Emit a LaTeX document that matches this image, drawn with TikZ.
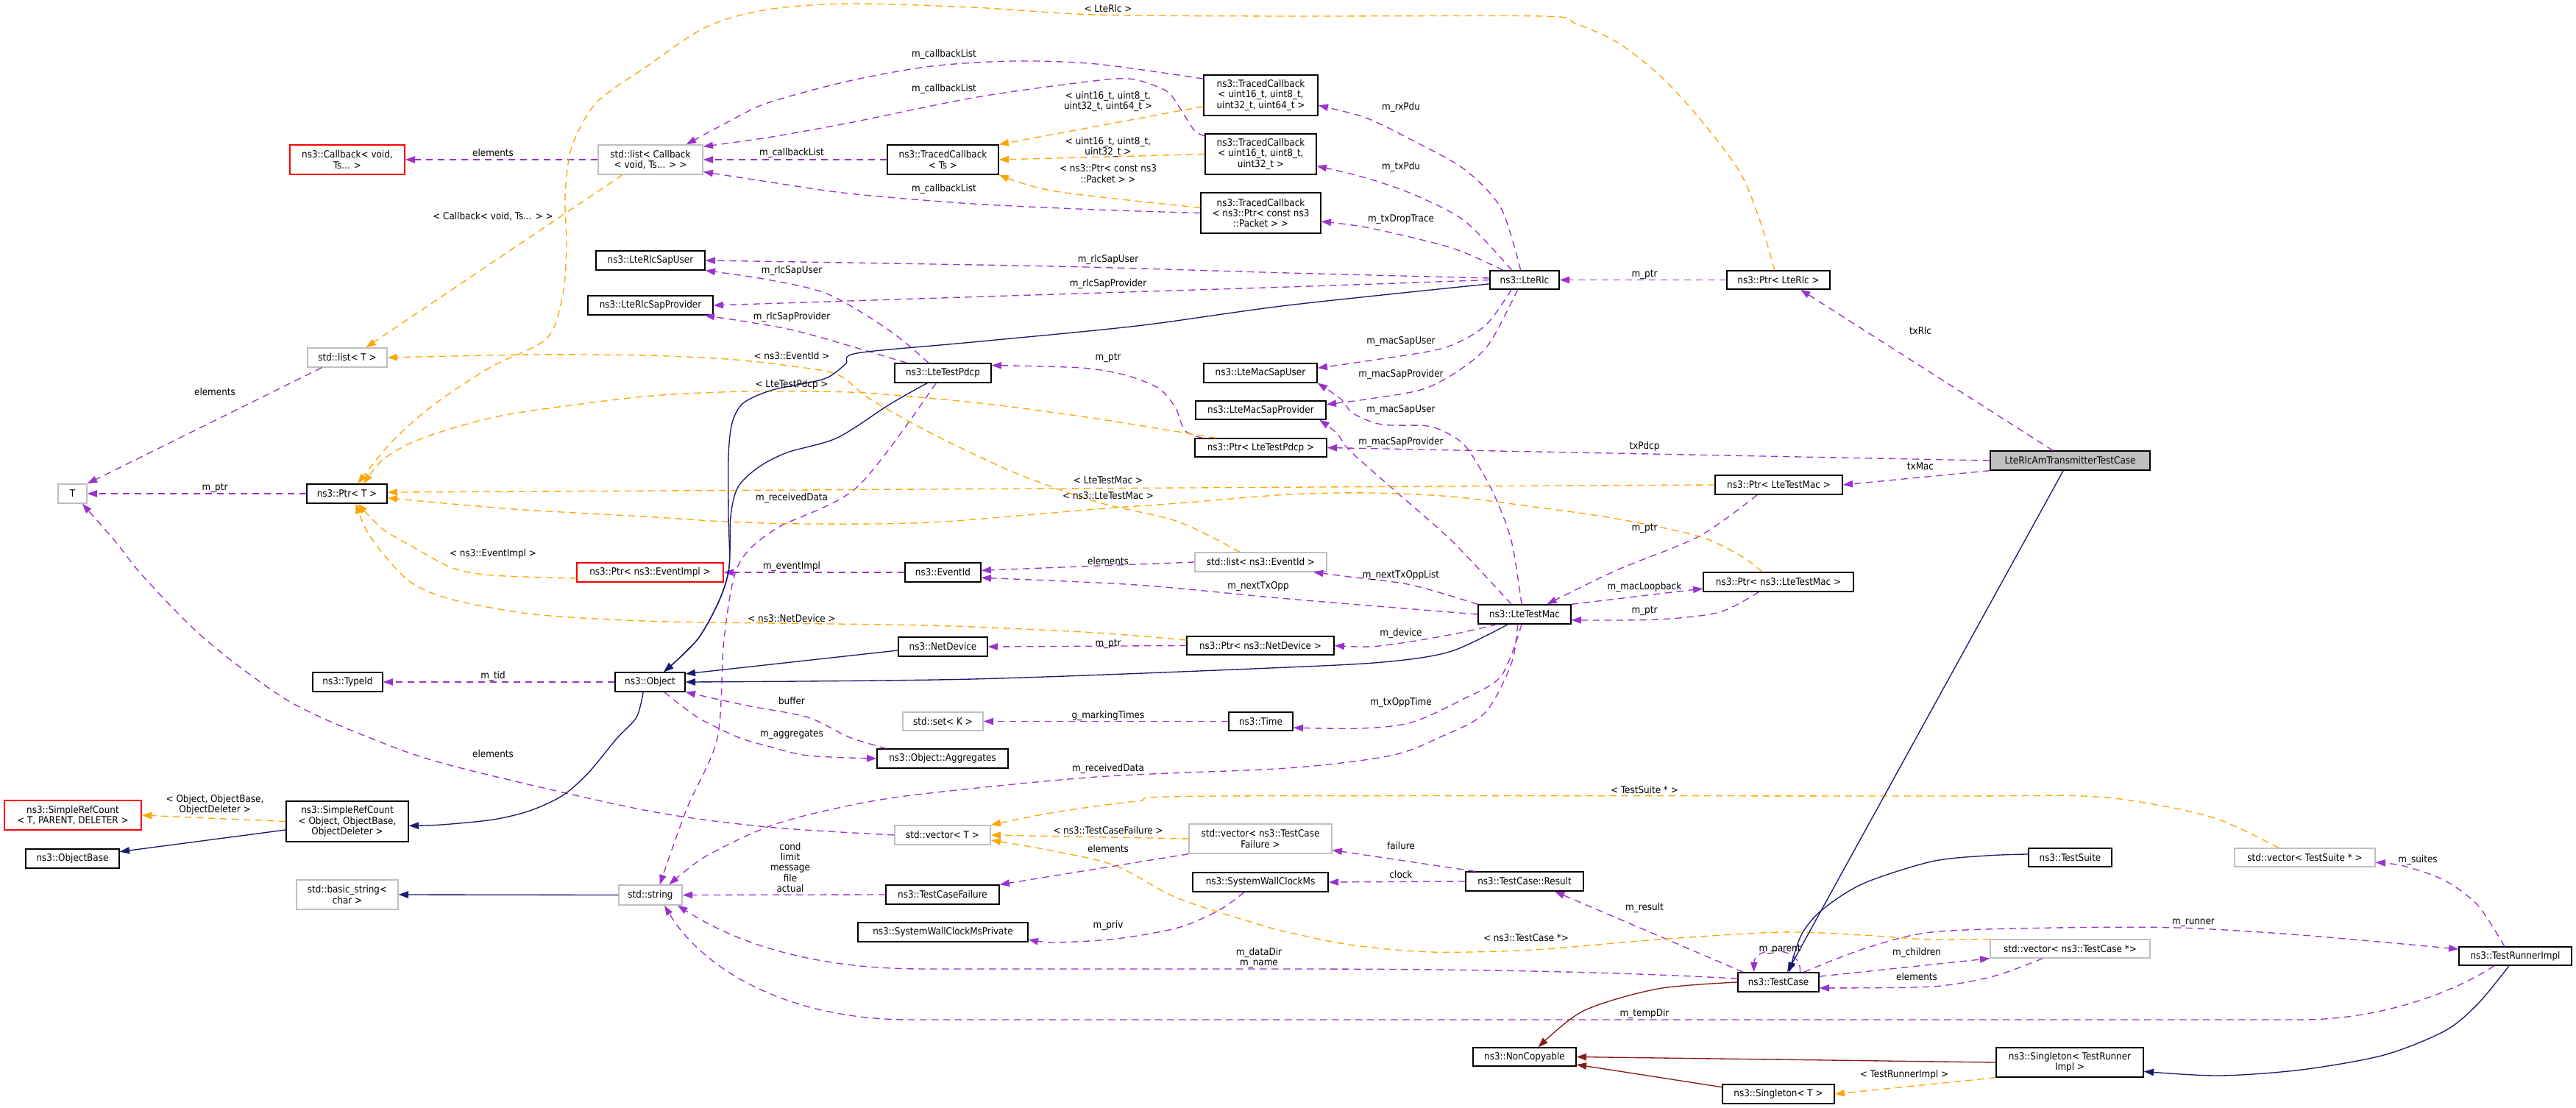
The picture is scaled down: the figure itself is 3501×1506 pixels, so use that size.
\documentclass[tikz,border=0pt]{standalone}
\usepackage{fontspec}
\setmainfont{DejaVu Sans Condensed}
\usetikzlibrary{arrows.meta}
\definecolor{cpurple}{HTML}{9A32CD}
\definecolor{corange}{HTML}{FFA500}
\definecolor{cblue}{HTML}{191970}
\definecolor{cred}{HTML}{8B1A1A}
\definecolor{cgray}{HTML}{BFBFBF}
\newcommand\mknode[7]{\node[#6, minimum width={(#4-#2)*0.75pt}, minimum height={(#5-#3)*0.75pt}] (#1) at ({(#2+#4)/2},{(#3+#5)/2}) {#7};}
\begin{document}
\begin{tikzpicture}[x=0.75pt,y=-0.75pt,
  every node/.style={font=\fontsize{10}{10.8}\selectfont},
  nb/.style={draw=black, line width=1pt, fill=white, inner sep=0pt, align=center},
  gb/.style={nb, draw=cgray},
  rb/.style={nb, draw=red},
  mb/.style={nb, fill=cgray},
  lbl/.style={inner sep=0pt, align=center},
  pe/.style={draw=cpurple, line width=1pt, dash pattern=on 7pt off 5pt, -{Triangle[length=10pt,width=7pt]}},
  oe/.style={pe, draw=corange},
  be/.style={draw=cblue, line width=1pt, -{Triangle[length=10pt,width=7pt]}},
  re/.style={be, draw=cred}]
\fill[white] (0,0) rectangle (3501,1506);
\useasboundingbox (0,0) rectangle (3501,1506);
% nodes
\mknode{main}{2705}{613}{2922}{639}{mb}{LteRlcAmTransmitterTestCase}
\mknode{ptrlterlc}{2347}{368}{2487}{393}{nb}{ns3::Ptr< LteRlc >}
\mknode{lterlc}{2025}{368}{2119}{393}{nb}{ns3::LteRlc}
\mknode{tc1}{1636}{102}{1791}{157}{nb}{ns3::TracedCallback\\< uint16\_t, uint8\_t,\\uint32\_t, uint64\_t >}
\mknode{tc2}{1638}{182}{1789}{237}{nb}{ns3::TracedCallback\\< uint16\_t, uint8\_t,\\uint32\_t >}
\mknode{tc3}{1632}{262}{1795}{317}{nb}{ns3::TracedCallback\\< ns3::Ptr< const ns3\\::Packet > >}
\mknode{tcts}{1206}{197}{1357}{237}{nb}{ns3::TracedCallback\\< Ts >}
\mknode{listcb}{813}{197}{955}{237}{gb}{std::list< Callback\\< void, Ts... > >}
\mknode{callback}{394}{197}{550}{237}{rb}{ns3::Callback< void,\\Ts... >}
\mknode{listt}{418}{473}{526}{499}{gb}{std::list< T >}
\mknode{sapuser}{810}{341}{958}{367}{nb}{ns3::LteRlcSapUser}
\mknode{sapprov}{799}{402}{969}{428}{nb}{ns3::LteRlcSapProvider}
\mknode{pdcp}{1216}{494}{1347}{520}{nb}{ns3::LteTestPdcp}
\mknode{macuser}{1636}{494}{1790}{520}{nb}{ns3::LteMacSapUser}
\mknode{macprov}{1625}{545}{1802}{570}{nb}{ns3::LteMacSapProvider}
\mknode{ptrpdcp}{1624}{596}{1803}{621}{nb}{ns3::Ptr< LteTestPdcp >}
\mknode{ptrmac}{2331}{646}{2504}{672}{nb}{ns3::Ptr< LteTestMac >}
\mknode{ptrnsmac}{2315}{778}{2519}{804}{nb}{ns3::Ptr< ns3::LteTestMac >}
\mknode{mac}{2009}{822}{2135}{848}{nb}{ns3::LteTestMac}
\mknode{T}{79}{658}{118}{684}{gb}{T}
\mknode{ptrt}{417}{658}{526}{684}{nb}{ns3::Ptr< T >}
\mknode{listev}{1624}{751}{1803}{777}{gb}{std::list< ns3::EventId >}
\mknode{eventid}{1230}{765}{1333}{791}{nb}{ns3::EventId}
\mknode{ptrevimpl}{784}{765}{983}{791}{rb}{ns3::Ptr< ns3::EventImpl >}
\mknode{netdev}{1221}{866}{1342}{892}{nb}{ns3::NetDevice}
\mknode{ptrnetdev}{1613}{865}{1813}{890}{nb}{ns3::Ptr< ns3::NetDevice >}
\mknode{object}{836}{914}{931}{940}{nb}{ns3::Object}
\mknode{typeid}{425}{914}{520}{940}{nb}{ns3::TypeId}
\mknode{setk}{1227}{968}{1336}{993}{gb}{std::set< K >}
\mknode{time}{1670}{968}{1757}{993}{nb}{ns3::Time}
\mknode{aggr}{1192}{1018}{1370}{1044}{nb}{ns3::Object::Aggregates}
\mknode{vect}{1216}{1122}{1346}{1148}{gb}{std::vector< T >}
\mknode{vecfail}{1616}{1120}{1810}{1160}{gb}{std::vector< ns3::TestCase\\Failure >}
\mknode{fail}{1204}{1203}{1358}{1229}{nb}{ns3::TestCaseFailure}
\mknode{swc}{1621}{1186}{1805}{1212}{nb}{ns3::SystemWallClockMs}
\mknode{swcp}{1166}{1254}{1397}{1280}{nb}{ns3::SystemWallClockMsPrivate}
\mknode{result}{1992}{1185}{2152}{1211}{nb}{ns3::TestCase::Result}
\mknode{testcase}{2362}{1322}{2472}{1348}{nb}{ns3::TestCase}
\mknode{noncopy}{2002}{1424}{2142}{1449}{nb}{ns3::NonCopyable}
\mknode{singt}{2341}{1474}{2493}{1500}{nb}{ns3::Singleton< T >}
\mknode{srct}{6}{1088}{192}{1128}{rb}{ns3::SimpleRefCount\\< T, PARENT, DELETER >}
\mknode{objbase}{35}{1154}{162}{1180}{nb}{ns3::ObjectBase}
\mknode{srcobj}{389}{1089}{555}{1144}{nb}{ns3::SimpleRefCount\\< Object, ObjectBase,\\ObjectDeleter >}
\mknode{basicstr}{403}{1196}{541}{1236}{gb}{std::basic\_string<\\char >}
\mknode{string}{841}{1203}{927}{1230}{gb}{std::string}
\mknode{testsuite}{2757}{1153}{2870}{1178}{nb}{ns3::TestSuite}
\mknode{vecsuite}{3037}{1153}{3228}{1178}{gb}{std::vector< TestSuite * >}
\mknode{runner}{3342}{1287}{3495}{1312}{nb}{ns3::TestRunnerImpl}
\mknode{vectc}{2705}{1277}{2922}{1302}{gb}{std::vector< ns3::TestCase *>}
\mknode{singtri}{2713}{1424}{2913}{1464}{nb}{ns3::Singleton< TestRunner\\Impl >}
% purple edges
\draw[pe] (listcb.west) -- (callback.east);
\draw[pe] plot[smooth] coordinates {(tc1.164) (1490,87) (1378,83) (1266,90) (1154,110) (1043,140) (987,167) (listcb.23)};
\draw[pe] plot[smooth] coordinates {(tc2.162) (1623,177) (1601,143) (1584,123) (1534,107) (1462,113) (1322,133) (1154,167) (1043,187) (listcb.14)};
\draw[pe] (tcts.west) -- (listcb.east);
\draw[pe] plot[smooth] coordinates {(tc3.west) (1490,285) (1322,277) (1154,263) (1043,247) (listcb.-13)};
\draw[pe] plot[smooth] coordinates {([xshift=-4pt]lterlc.north) (2040,283) (1990,230) (1918,190) (1856,160) (tc1.-10)};
\draw[pe] plot[smooth] coordinates {([xshift=-13pt]lterlc.north) (1990,300) (1918,263) (1850,240) (tc2.-12)};
\draw[pe] plot[smooth] coordinates {([xshift=-22pt]lterlc.north) (1973,337) (1862,310) (tc3.-8)};
\draw[pe] plot[smooth] coordinates {(lterlc.177) (1751,371) (1434,362) (sapuser.east)};
\draw[pe] plot[smooth] coordinates {(lterlc.west) (1751,390) (1434,400) (sapprov.east)};
\draw[pe] (ptrlterlc.west) -- (lterlc.east);
\draw[pe] plot[smooth] coordinates {([xshift=-13.5pt]lterlc.south) (2018,443) (1962,473) (1862,490) (macuser.5)};
\draw[pe] plot[smooth] coordinates {([xshift=-7pt]lterlc.south) (2024,467) (1985,502) (1934,529) (1862,542) (macprov.5)};
\draw[pe] plot[smooth] coordinates {([xshift=-14.6pt]pdcp.north) (1210,450) (1126,400) (1043,380) (sapuser.south east)};
\draw[pe] plot[smooth] coordinates {([xshift=-37pt]pdcp.north) (1165,473) (1070,447) ([xshift=-9pt]sapprov.south east)};
\draw[pe] plot[smooth] coordinates {([xshift=8pt]ptrpdcp.north west) (1610,585) (1598,555) (1575,528) (1530,510) (1470,500) (pdcp.9)};
\draw[pe] plot[smooth] coordinates {([xshift=-7pt]pdcp.south) (1165,662) (1054,719) (1003,769) (984,869) (975,1003) (933,1100) ([xshift=9.5pt]string.north)};
\draw[pe] plot[smooth] coordinates {([xshift=-7pt]mac.south) (2054,902) (2018,969) (1957,1002) (1890,1027) (1750,1044) (1490,1056) (1238,1081) (1126,1101) (1043,1124) (959,1164) ([xshift=19pt]string.north)};
\draw[pe] (object.west) -- (typeid.east);
\draw[pe] (ptrt.west) -- (T.east);
\draw[pe] ([xshift=15pt]listt.south west) -- (T.north east);
\draw[pe] plot[smooth] coordinates {(vect.west) (1043,1124) (875,1101) (615,1041) (503,1003) (391,952) (279,869) (196,785) (156,735) ([xshift=10pt]T.south)};
\draw[pe] (eventid.west) -- (ptrevimpl.east);
\draw[pe] (listev.west) -- (eventid.3);
\draw[pe] plot[smooth] coordinates {(mac.west) (1751,814) (1545,795) (eventid.-8)};
\draw[pe] plot[smooth] coordinates {(mac.north west) (1918,795) (1834,784) ([xshift=-14pt]listev.south east)};
\draw[pe] (ptrnetdev.west) -- (netdev.east);
\draw[pe] plot[smooth] coordinates {([xshift=-28pt]mac.south) (1985,860) (1918,872) (1862,879) (ptrnetdev.east)};
\draw[pe] (time.west) -- (setk.east);
\draw[pe] plot[smooth] coordinates {([xshift=-3pt]mac.south) (2040,919) (1985,952) (1918,982) (1850,990) (time.-11)};
\draw[pe] plot[smooth] coordinates {([xshift=10pt]aggr.north west) (1154,1002) (1098,975) (1015,959) (object.south east)};
\draw[pe] plot[smooth] coordinates {([xshift=14.6pt]object.south) (948,975) (1003,1002) (1043,1014) (1098,1027) (aggr.west)};
\draw[pe] plot[smooth] coordinates {([xshift=-3pt]mac.north) (2054,735) (2029,669) (1996,612) (1973,592) (1940,579) (1878,577) (1839,562) (1822,542) (macuser.south east)};
\draw[pe] plot[smooth] coordinates {([xshift=-13.5pt]mac.north) (1973,735) (1890,662) (1834,612) (1817,589) ([xshift=-7pt]macprov.south east)};
\draw[pe] plot[smooth] coordinates {([xshift=-22pt]ptrmac.south) (2309,729) (2197,775) ([xshift=-25pt]mac.north east)};
\draw[pe] (mac.north east) -- (ptrnsmac.185);
\draw[pe] plot[smooth] coordinates {([xshift=-20pt]ptrnsmac.south) (2337,832) (2253,842) (mac.-7)};
\draw[pe] ([xshift=-17.6pt]main.north) -- ([xshift=22.5pt]ptrlterlc.south);
\draw[pe] (main.west) -- (ptrpdcp.east);
\draw[pe] (main.south west) -- (ptrmac.east);
\draw[pe] plot[smooth] coordinates {(vecfail.south west) (1490,1181) (fail.north east)};
\draw[pe] (fail.west) -- (string.east);
\draw[pe] plot[smooth] coordinates {([xshift=-16.5pt]swc.south) (1657,1237) (1601,1261) (1517,1276) (1434,1281) (swcp.-5)};
\draw[pe] ([xshift=10pt]result.north west) -- (vecfail.-9);
\draw[pe] (result.west) -- (swc.east);
\draw[pe] ([xshift=6pt]testcase.north west) -- ([xshift=30.75pt]result.south);
\draw[pe] (testcase.175) .. controls (2200,1321) and (2000,1317) .. (1750,1317) -- (1255,1317) .. controls (1090,1317) and (990,1275) .. ([xshift=-5pt]string.south east);
\draw[pe] ([xshift=-21.4pt]runner.south) .. controls (3330,1352) and (3230,1386) .. (3128,1386) -- (1238,1386) .. controls (1060,1386) and (950,1310) .. ([xshift=14.3pt]string.south);
\draw[pe] ([xshift=22pt]testcase.north) .. controls (2450,1285) and (2384,1285) .. ([xshift=-25pt]testcase.north);
\draw[pe] (testcase.8) -- (vectc.south west);
\draw[pe] plot[smooth] coordinates {([xshift=-28pt]vectc.south) (2709,1327) (2625,1341) (testcase.-8)};
\draw[pe] plot[smooth] coordinates {([xshift=26pt]testcase.north) (2532,1290) (2625,1267) (2793,1261) (2960,1261) (3128,1271) (runner.173)};
\draw[pe] plot[smooth] coordinates {([xshift=-11pt]runner.north) (3368,1231) (3323,1197) (3267,1177) (vecsuite.-4)};
% orange edges
\draw[oe] plot[smooth] coordinates {([xshift=-4pt]ptrlterlc.north) (2392,300) (2364,233) (2309,160) (2253,100) (2197,57) (2141,32) (2096,22) (1750,22) (1490,20) (1322,10) (1154,5) (1043,13) (959,37) (875,93) (810,140) (777,200) (768,267) (770,333) (765,400) (743,460) (665,500) (587,552) (531,602) ([xshift=11pt]ptrt.north)};
\draw[oe] plot[smooth] coordinates {([xshift=22pt]ptrpdcp.north west) (1490,569) (1350,550) (1238,539) (1154,533) (1015,532) (875,539) (698,562) (615,582) (559,602) (520,625) ([xshift=17pt]ptrt.north)};
\draw[oe] plot[smooth] coordinates {([xshift=-21.4pt]listev.north) (1601,709) (1490,682) (1378,642) (1266,589) (1182,542) (1138,509) (1071,497) (987,488) (875,483) (726,482) (listt.east)};
\draw[oe] (ptrmac.west) -- (ptrt.2);
\draw[oe] plot[smooth] coordinates {([xshift=-16.5pt]ptrnsmac.north) (2365,755) (2309,729) (2197,705) (2085,689) (1973,675) (1862,670) (1751,672) (1601,684) (1490,692) (1266,710) (1098,712) (987,709) (875,702) (698,692) (ptrt.-6)};
\draw[oe] plot[smooth] coordinates {([yshift=-6pt]ptrevimpl.west) (670,782) (615,772) (559,742) (520,719) ([xshift=11pt]ptrt.south)};
\draw[oe] plot[smooth] coordinates {([yshift=5.6pt]ptrnetdev.west) (1490,860) (1322,852) (1210,849) (1043,847) (875,844) (726,835) (615,815) (559,792) (520,752) (497,719) ([xshift=9pt]ptrt.south)};
\draw[oe] ([xshift=-28.5pt]listcb.south) -- ([xshift=19pt]listt.north);
\draw[oe] (tc1.191) -- (tcts.north east);
\draw[oe] (tc2.west) -- (tcts.east);
\draw[oe] plot[smooth] coordinates {(tc3.175) (1434,260) (tcts.south east)};
\draw[oe] (vecfail.west) -- (vect.east);
\draw[oe] plot[smooth] coordinates {([xshift=-26.6pt]vecsuite.north) (3016,1114) (2932,1094) (2832,1082) (2625,1082) (1657,1082) (1545,1089) (1434,1104) (vect.north east)};
\draw[oe] plot[smooth] coordinates {(vectc.north west) (2621,1277) (2532,1271) (2420,1267) (2253,1277) (2085,1291) (1945,1294) (1834,1284) (1750,1267) (1713,1257) (1601,1221) (1517,1177) (1434,1157) (vect.-6)};
\draw[oe] (srcobj.west) -- (srct.east);
\draw[oe] (singtri.south west) -- (singt.east);
% inheritance edges
\draw[be] plot[smooth] coordinates {([yshift=-4pt]lterlc.west) (1750,415) (1545,443) (1322,465) (1165,480) (1149,495) (1120,515) (1050,530) (1010,548) (995,575) (990,620) (990,700) (991,770) (978,815) (948,869) ([xshift=14pt]object.north)};
\draw[be] plot[smooth] coordinates {([xshift=-16pt]pdcp.south) (1210,549) (1138,595) (1070,615) (1031,635) (1003,662) (993,702) (991,770) (978,815) (948,869) ([xshift=14pt]object.north)};
\draw[be] ([yshift=-3.75pt]netdev.west) -- (object.13);
\draw[be] plot[smooth] coordinates {([xshift=-17pt]mac.south) (1973,885) (1890,899) (1750,907) (1322,923) (object.east)};
\draw[be] plot[smooth] coordinates {([xshift=-7pt]object.south) (865,975) (838,1004) (800,1050) (765,1081) (720,1102) (670,1114) (600,1121) (srcobj.-4)};
\draw[be] ([yshift=-8.6pt]srcobj.west) -- ([yshift=7pt]objbase.east);
\draw[be] (string.west) -- (basicstr.east);
\draw[be] ([xshift=-7pt]main.south) -- ([xshift=9pt]testcase.north);
\draw[be] plot[smooth] coordinates {([yshift=3.4pt]testsuite.west) (2700,1163) (2625,1171) (2532,1201) (2476,1237) (2448,1271) ([xshift=11pt]testcase.north)};
\draw[be] plot[smooth] coordinates {([xshift=-6.4pt]runner.south) (3368,1364) (3323,1401) (3240,1434) (3128,1454) (3016,1462) (singtri.-7)};
\draw[re] plot[smooth] coordinates {(testcase.west) (2253,1344) (2152,1374) ([xshift=14pt]noncopy.north)};
\draw[re] (singtri.west) -- (noncopy.east);
\draw[re] ([yshift=7pt]singt.west) -- ([yshift=2pt]noncopy.south east);
% labels
\node[lbl] (l1) at (670,208) {elements};
\node[lbl] (l2) at (1283,74) {m\_callbackList};
\node[lbl] (l3) at (1283,121) {m\_callbackList};
\node[lbl] (l4) at (1076,208) {m\_callbackList};
\node[lbl] (l5) at (1283,257) {m\_callbackList};
\node[lbl] (l6) at (1904,146) {m\_rxPdu};
\node[lbl] (l7) at (1904,227) {m\_txPdu};
\node[lbl] (l8) at (1904,298) {m\_txDropTrace};
\node[lbl] (l9) at (1506,353) {m\_rlcSapUser};
\node[lbl] (l10) at (1506,386) {m\_rlcSapProvider};
\node[lbl] (l11) at (2235,373) {m\_ptr};
\node[lbl] (l12) at (1904,464) {m\_macSapUser};
\node[lbl] (l13) at (1904,509) {m\_macSapProvider};
\node[lbl] (l14) at (1076,368) {m\_rlcSapUser};
\node[lbl] (l15) at (1076,431) {m\_rlcSapProvider};
\node[lbl] (l16) at (1506,486) {m\_ptr};
\node[lbl] (l17) at (1076,677) {m\_receivedData};
\node[lbl] (l18) at (1506,1045) {m\_receivedData};
\node[lbl] (l19) at (670,919) {m\_tid};
\node[lbl] (l20) at (292,663) {m\_ptr};
\node[lbl] (l21) at (292,533) {elements};
\node[lbl] (l22) at (670,1025) {elements};
\node[lbl] (l23) at (1076,770) {m\_eventImpl};
\node[lbl] (l24) at (1506,763) {elements};
\node[lbl] (l25) at (1710,797) {m\_nextTxOpp};
\node[lbl] (l26) at (1904,782) {m\_nextTxOppList};
\node[lbl] (l27) at (1506,875) {m\_ptr};
\node[lbl] (l28) at (1904,861) {m\_device};
\node[lbl] (l29) at (1506,973) {g\_markingTimes};
\node[lbl] (l30) at (1904,955) {m\_txOppTime};
\node[lbl] (l31) at (1076,953) {buffer};
\node[lbl] (l32) at (1076,998) {m\_aggregates};
\node[lbl] (l33) at (1904,557) {m\_macSapUser};
\node[lbl] (l34) at (1904,601) {m\_macSapProvider};
\node[lbl] (l35) at (2235,718) {m\_ptr};
\node[lbl] (l36) at (2235,798) {m\_macLoopback};
\node[lbl] (l37) at (2235,830) {m\_ptr};
\node[lbl] (l38) at (2610,450) {txRlc};
\node[lbl] (l39) at (2235,607) {txPdcp};
\node[lbl] (l40) at (2610,634) {txMac};
\node[lbl] (l41) at (1506,1154) {elements};
\node[lbl] (l42) at (1074,1179) {cond\\limit\\message\\file\\actual};
\node[lbl] (l43) at (1506,1258) {m\_priv};
\node[lbl] (l44) at (1904,1150) {failure};
\node[lbl] (l45) at (1904,1189) {clock};
\node[lbl] (l46) at (2235,1234) {m\_result};
\node[lbl] (l47) at (1711,1302) {m\_dataDir\\m\_name};
\node[lbl] (l48) at (2235,1378) {m\_tempDir};
\node[lbl] (l49) at (2419,1290) {m\_parent};
\node[lbl] (l50) at (2605,1295) {m\_children};
\node[lbl] (l51) at (2605,1328) {elements};
\node[lbl] (l52) at (2981,1254) {m\_runner};
\node[lbl] (l53) at (3286,1169) {m\_suites};
\node[lbl] (lo1) at (1506,12) {< LteRlc >};
\node[lbl] (lo2) at (1076,523) {< LteTestPdcp >};
\node[lbl] (lo3) at (1076,484) {< ns3::EventId >};
\node[lbl] (lo4) at (1506,653) {< LteTestMac >};
\node[lbl] (lo5) at (1506,674) {< ns3::LteTestMac >};
\node[lbl] (lo6) at (670,753) {< ns3::EventImpl >};
\node[lbl] (lo7) at (1076,841) {< ns3::NetDevice >};
\node[lbl] (lo8) at (670,294) {< Callback< void, Ts... > >};
\node[lbl] (lo9) at (1506,138) {< uint16\_t, uint8\_t,\\uint32\_t, uint64\_t >};
\node[lbl] (lo10) at (1506,200) {< uint16\_t, uint8\_t,\\uint32\_t >};
\node[lbl] (lo11) at (1506,236) {< ns3::Ptr< const ns3\\::Packet > >};
\node[lbl] (lo12) at (1506,1129) {< ns3::TestCaseFailure >};
\node[lbl] (lo13) at (2235,1074) {< TestSuite * >};
\node[lbl] (lo14) at (2074,1275) {< ns3::TestCase *>};
\node[lbl] (lo15) at (292,1094) {< Object, ObjectBase,\\ObjectDeleter >};
\node[lbl] (lo16) at (2588,1461) {< TestRunnerImpl >};
\end{tikzpicture}
\end{document}
